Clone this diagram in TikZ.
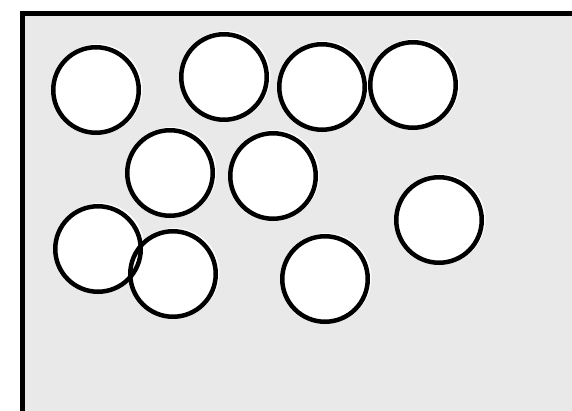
\documentclass[tikz,border=0pt]{standalone}
\usetikzlibrary{backgrounds}
\definecolor{trayfill}{HTML}{E9E9E9}

\begin{document}
\begin{tikzpicture}[
        x=1pt, y=-1pt,
        ball/.style={circle, draw=black, line width=4.5pt, minimum size=85.5pt,
                     inner sep=0pt},
        halo/.style={fill=white, draw=none},
        tray/.style={fill=trayfill, draw=black, line width=5pt}
    ]
        \useasboundingbox (0,0) rectangle (572,411);
        \clip (0,0) rectangle (572,411);
        % circles
        \node[ball] (c1) at (96,90) {};
        \node[ball] (c2) at (224,77) {};
        \node[ball] (c3) at (322,87) {};
        \node[ball] (c4) at (413,85) {};
        \node[ball] (c5) at (170,173) {};
        \node[ball] (c6) at (273,176) {};
        \node[ball] (c7) at (98,249) {};
        \node[ball] (c8) at (173,274) {};
        \node[ball] (c9) at (325,279) {};
        \node[ball] (c10) at (439,220) {};
        \begin{scope}[on background layer]
            \draw[tray] (22,14) rectangle (600,440);
            \foreach \c in {c1,c2,c3,c4,c5,c6,c7,c8,c9,c10}
                \fill[halo] ([xshift=1.5pt,yshift=1pt]\c.center) circle (45pt);
        \end{scope}
    \end{tikzpicture}
\end{document}
